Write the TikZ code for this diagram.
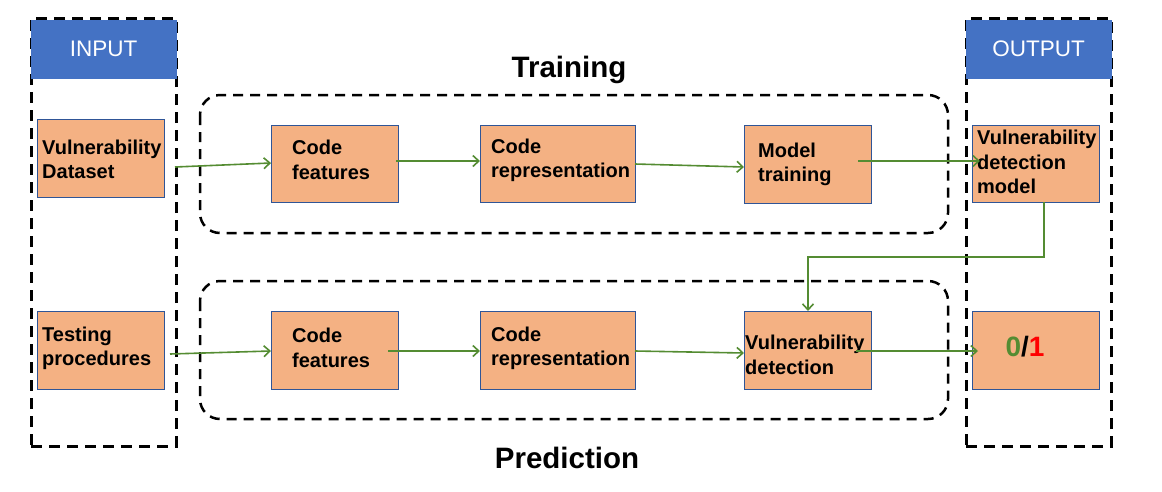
\documentclass[tikz,border=0pt]{standalone}
\usepackage{fontspec}
\setmainfont{Liberation Sans}
\usetikzlibrary{calc,arrows.meta}
\definecolor{boxfill}{RGB}{244,177,131}
\definecolor{boxline}{RGB}{47,85,151}
\definecolor{hdrfill}{RGB}{68,114,196}
\definecolor{arrgreen}{RGB}{84,140,50}
\definecolor{onered}{RGB}{255,0,0}
\begin{document}
\begin{tikzpicture}[x=1pt,y=-1pt,
  box/.style={draw=boxline, line width=0.9pt, fill=boxfill, inner sep=0pt, outer sep=0pt},
  col/.style={draw=black, line width=3pt, dash pattern=on 11pt off 7pt, inner sep=0pt, outer sep=0pt},
  hdr/.style={fill=hdrfill, draw=hdrfill, inner sep=0pt, outer sep=0pt, text=white, font=\fontsize{22.5}{26}\selectfont},
  grp/.style={draw=black, line width=2.5pt, dash pattern=on 10pt off 7pt, rounded corners=20pt},
  lbl/.style={anchor=west, align=left, inner sep=0pt, font=\bfseries\fontsize{20}{24.5}\selectfont},
  title/.style={inner sep=0pt, font=\bfseries\fontsize{29.5}{34}\selectfont},
  arrow/.style={draw=arrgreen, line width=1.6pt, -{Straight Barb[length=6pt,width=11pt,line width=1.6pt]}}
]
\useasboundingbox (0,0) rectangle (1162,491);
% columns
\node[col, minimum width=145pt, minimum height=428pt] (incol) at (103.5,232) {};
\node[col, minimum width=145pt, minimum height=428pt] (outcol) at (1038.5,232) {};
\node[hdr, minimum width=145pt, minimum height=58pt] (inhdr) at (103.5,49) {INPUT};
\node[hdr, minimum width=145pt, minimum height=58pt] (outhdr) at (1038.5,49) {OUTPUT};
% groups
\draw[grp] (200,95) rectangle (948,233);
\draw[grp] (200,281) rectangle (948,419);
\node[title] (ttrain) at (569,70) {Training};
\node[title] (tpred) at (567,458) {Prediction};
% boxes top row
\node[box, minimum width=127pt, minimum height=78pt] (ds) at (100.5,158) {};
\node[box, minimum width=127pt, minimum height=77pt] (cf1) at (334.5,163.5) {};
\node[box, minimum width=155pt, minimum height=77pt] (rep1) at (557.5,163.5) {};
\node[box, minimum width=127pt, minimum height=78pt] (mt) at (807.5,164) {};
\node[box, minimum width=127pt, minimum height=77pt] (vdm) at (1035.5,163.5) {};
% boxes bottom row
\node[box, minimum width=127pt, minimum height=78pt] (tp) at (100.5,350) {};
\node[box, minimum width=127pt, minimum height=78pt] (cf2) at (334.5,350) {};
\node[box, minimum width=155pt, minimum height=78pt] (rep2) at (557.5,350) {};
\node[box, minimum width=127pt, minimum height=78pt] (vd) at (807.5,350) {};
\node[box, minimum width=127pt, minimum height=78pt] (res) at (1035.5,350) {};
% labels
\node[lbl] (lds) at (42,159.5) {Vulnerability\\Dataset};
\node[lbl] (lcf1) at (292,160) {Code\\features};
\node[lbl] (lrep1) at (491,160.5) {Code\\representation};
\node[lbl] (lmt) at (758,164.5) {Model\\training};
\node[lbl] (lvdm) at (977,162) {Vulnerability\\detection\\model};
\node[lbl] (ltp) at (42,348.5) {Testing\\procedures};
\node[lbl] (lcf2) at (292,348) {Code\\features};
\node[lbl] (lrep2) at (491,348.5) {Code\\representation};
\node[lbl] (lvd) at (745,355) {Vulnerability\\detection};
\node[inner sep=0pt, font=\bfseries\fontsize{28}{32}\selectfont] (l01) at (1025,347) {\textcolor{arrgreen}{0}/\textcolor{onered}{1}};
% arrows
\draw[arrow] ($(ds.east)+(11,9)$) -- ($(cf1.west)+(0,-0.5)$);
\draw[arrow] ($(cf1.east)+(-2,-2.5)$) -- ($(rep1.west)+(0,-2.5)$);
\draw[arrow] ($(rep1.east)+(0,0.5)$) -- ($(mt.west)+(0,3)$);
\draw[arrow] ($(mt.east)+(-13,-3)$) -- ($(vdm.west)+(8,-2.5)$);
\draw[arrow] ($(vdm.south)+(8.5,0)$) |- ($(vd.north)+(0.5,-54)$) -- ($(vd.north)+(0.5,0)$);
\draw[arrow] ($(tp.east)+(6,4)$) -- ($(cf2.west)+(0,1)$);
\draw[arrow] ($(cf2.east)+(-10,1)$) -- ($(rep2.west)+(0,1)$);
\draw[arrow] ($(rep2.east)+(0,1)$) -- ($(vd.west)+(0,3)$);
\draw[arrow] ($(vd.east)+(-15,1)$) -- ($(res.west)+(6,1)$);
\end{tikzpicture}
\end{document}
